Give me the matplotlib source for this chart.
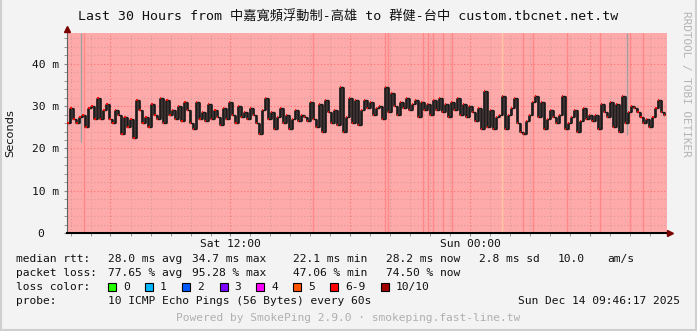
import matplotlib
matplotlib.use('Agg')
from matplotlib import pyplot as plt
from matplotlib.patches import Rectangle
import numpy as np

W, H = 697, 331
MONO = ['DejaVu Sans Mono', 'Noto Sans CJK TC']

# time axis: hours since Sat 00:00, one sample every 9 minutes
START = 3.825
STEP = 0.15
END = 33.825

# median rtt (ms)
RTT = [
    26, 29.5, 27, 26, 27.5, 28, 25, 29.5, 30, 27, 32, 27, 29, 30.5, 27, 26, 29, 28, 23.5, 27.5,
    25, 27, 22.5, 31.5, 29, 26, 27.5, 25, 30.5, 28, 27, 32, 26, 31.5, 28, 29, 27, 30, 26.5, 31,
    29, 26, 24.5, 31, 27, 28.5, 26.5, 30.5, 27, 29, 27.5, 25.5, 29.5, 27, 31, 28, 26, 30, 27.5, 28.5,
    27, 29.5, 28, 26, 23.5, 29, 32, 27, 28.5, 24.5, 27.5, 29.5, 26, 28, 24.5, 27, 29, 26.5, 28, 27.5,
    26.5, 31, 27, 25, 30.5, 24, 31.5, 28.5, 26, 29, 25.5, 34.5, 24, 27.5, 32, 26, 31.5, 25.5, 29, 31.5,
    29.5, 31, 28, 29.5, 30, 27, 34.5, 28.5, 33, 30, 28, 31, 29.5, 32, 29, 30.5, 31.5, 27.5, 31, 29,
    30.5, 28, 31.5, 29, 32, 28.5, 30.5, 27.5, 31, 29, 32, 28, 30.5, 27.5, 30, 28.5, 26.5, 29.5, 24.5, 33.5,
    25, 29, 24.5, 27.5, 28, 32.5, 24.5, 28, 29.5, 32, 26, 24, 23.5, 26.5, 28, 31, 32.5, 27.5, 31, 24.5,
    27, 29, 27.5, 26, 28, 32.5, 24.5, 26, 27.5, 29, 24, 26.5, 29.5, 27, 28, 26.5, 28, 24.5, 30.5, 28.5,
    27.5, 31, 25, 30.5, 24, 32.5, 26, 28.5, 30, 29.5, 28.5, 27.5, 26, 27, 25, 27.5, 29.5, 31.5, 28.5, 28,
]

# moments with heavier loss (hours), drawn as stripes
LOSS_STRIPES = [4.675, 16.125, 19.725, 19.875, 21.625, 21.875, 22.125, 22.625, 23.075,
                26.625, 27.125, 28.825, 30.475, 31.975, 32.625]
PALE_STRIPES = [25.575]
# single outliers (time, lowest rtt ms) drawn as grey smoke to the top
OUTLIER_T = [4.525, 31.825]
OUTLIER_LO = [21.5, 23.2]

LOSS_LABELS = ['0', '1', '2', '3', '4', '5', '6-9', '10/10']
LOSS_COLORS = ['#26ff00', '#00b8ff', '#0059ff', '#7e00ff', '#ff00ff', '#ff5500', '#ff0000', '#a10000']
LOSS_BOX_X = [108, 145, 182, 219.5, 256, 293, 330, 381]

YMAX = 47.3


def fx(x):
    return x / W


def fy(y):
    return 1 - y / H


def main():
    fig = plt.figure(figsize=(W / 100, H / 100), dpi=100, facecolor='#f3f3f3')
    ax = fig.add_axes([fx(67), fy(233), 600 / W, 200 / H])
    ax.set_facecolor('#ffaaaa')

    t = START + STEP * np.arange(len(RTT))
    v = np.array(RTT)

    for s in LOSS_STRIPES:
        ax.axvline(s, color='#ff8787', lw=1.0, zorder=1)
    for s in PALE_STRIPES:
        ax.axvline(s, color='#ffc9a6', lw=1.0, zorder=1)
    ax.vlines(OUTLIER_T, OUTLIER_LO, YMAX, color='#a0a0a0', lw=1.0, zorder=2)

    # smoke: black jumps between consecutive medians, median tips in loss colour
    ax.step(t, v, where='post', color='#1c1c1c', lw=1.0, zorder=3)
    ax.vlines(t[1:], v[:-1], v[1:], colors='#1c1c1c', lw=1.9, zorder=3)
    ax.hlines(v, t + STEP * 0.05, t + STEP * 0.5, colors='#ff0000', lw=1.3, zorder=4)

    ax.set_xlim(START, END)
    ax.set_ylim(0, YMAX)

    # grid
    ax.set_xticks(np.arange(6, 34, 6))
    ax.set_xticks(np.arange(4, 34, 1), minor=True)
    ax.set_yticks([0, 10, 20, 30, 40])
    ax.set_yticks(np.arange(2, 47, 2), minor=True)
    ax.grid(which='minor', color='#d99a9a', ls=(0, (1, 2)), lw=0.8, zorder=0)
    ax.grid(which='major', color='#ff6b6b', ls=(0, (1, 2)), lw=0.8, zorder=0)
    ax.set_axisbelow(True)

    ax.set_xticklabels(['', 'Sat 12:00', '', 'Sun 00:00', ''], family=MONO, fontsize=8.1)
    ax.set_yticklabels(['0  ', '10 m', '20 m', '30 m', '40 m'], family=MONO, fontsize=8.1)
    ax.tick_params(axis='x', which='both', length=2, color='#888888', pad=2, labelcolor='#111111')
    ax.tick_params(axis='y', which='both', length=2, color='#888888', pad=4, labelcolor='#111111')

    for sp in ['top', 'right']:
        ax.spines[sp].set_visible(False)
    ax.spines['left'].set_color('#606060')
    ax.spines['bottom'].set_color('black')
    ax.spines['bottom'].set_linewidth(1.5)

    # axis arrows
    ax.plot([START], [YMAX + 0.9], marker='^', ms=5, color='#7a0000', clip_on=False, zorder=6)
    ax.plot([END + 0.15], [0], marker='>', ms=5, color='#7a0000', clip_on=False, zorder=6)

    fig.text(fx(10), fy(133), 'Seconds', family='DejaVu Sans', fontsize=8.2, rotation=90,
             ha='center', va='center', color='#111111')

    # title
    fig.text(fx(348.5), fy(17), 'Last 30 Hours from 中嘉寬頻浮動制-高雄 to 群健-台中 custom.tbcnet.net.tw',
             family=MONO, fontsize=9.5, ha='center', va='center', color='#111111')
    fig.text(fx(686), fy(84), 'RRDTOOL / TOBI OETIKER', family=MONO, fontsize=7.9,
             rotation=270, ha='center', va='center', color='#b4b4b4')

    # legend block
    kw = dict(family=MONO, fontsize=8.1, va='center', color='#111111')
    fig.text(fx(16), fy(259), 'median rtt:', **kw)
    for x, s in [(107.6, '28.0 ms avg'), (192, '34.7 ms max'), (293, '22.1 ms min'),
                 (386, '28.2 ms now'), (479, '2.8 ms sd'), (558, '10.0'), (607, 'am/s')]:
        fig.text(fx(x), fy(259), s, **kw)
    fig.text(fx(16), fy(273), 'packet loss:', **kw)
    for x, s in [(107.6, '77.65 % avg'), (192, '95.28 % max'), (293, '47.06 % min'),
                 (386, '74.50 % now')]:
        fig.text(fx(x), fy(273), s, **kw)
    fig.text(fx(16), fy(287), 'loss color:', **kw)
    for bx, lab, col in zip(LOSS_BOX_X, LOSS_LABELS, LOSS_COLORS):
        fig.patches.append(Rectangle((fx(bx), fy(291)), 8 / W, 8 / H, facecolor=col,
                                     edgecolor='black', lw=0.8, transform=fig.transFigure))
        fig.text(fx(bx + 15), fy(287), lab, **kw)
    fig.text(fx(16), fy(301), 'probe:', **kw)
    fig.text(fx(107.6), fy(301), '10 ICMP Echo Pings (56 Bytes) every 60s', **kw)
    fig.text(fx(680), fy(301), 'Sun Dec 14 09:46:17 2025', ha='right', **kw)
    fig.text(fx(348.5), fy(318), 'Powered by SmokePing 2.9.0 · smokeping.fast-line.tw',
             family=MONO, fontsize=8.1, ha='center', va='center', color='#b0b0b0')

    # image border
    for (x0, y0, x1, y1) in [(1, 0, 1, H), (W - 1, 0, W - 1, H), (0, H - 1, W, H - 1)]:
        fig.lines.append(plt.Line2D([fx(x0), fx(x1)], [fy(y0), fy(y1)], color='#cfcfcf',
                                    lw=1.5, transform=fig.transFigure))

    fig.savefig('out.png', dpi=100, facecolor=fig.get_facecolor())


if __name__ == '__main__':
    main()
